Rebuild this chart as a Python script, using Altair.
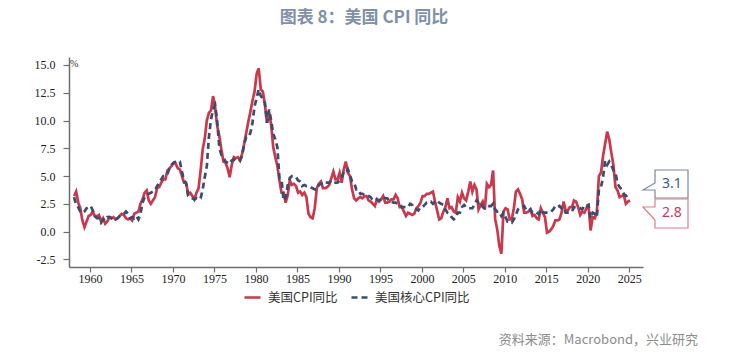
import altair as alt
import pandas as pd

# ---------------- data (quarterly, mid-quarter months Feb/May/Aug/Nov) ----------------
start_year = 1958
series_names = ["美国CPI同比", "美国核心CPI同比"]

cpi_yoy = [
    3.2, 3.6, 2.6, 2.1,   # 1958
    1.0, 0.4, 0.9, 1.4,   # 1959
    1.5, 1.8, 1.4, 1.4,   # 1960
    1.5, 0.9, 1.2, 0.7,   # 1961
    0.9, 1.3, 1.2, 1.3,   # 1962
    1.1, 1.2, 1.4, 1.6,   # 1963
    1.5, 1.2, 1.1, 1.2,   # 1964
    1.0, 1.6, 1.7, 1.8,   # 1965
    2.5, 2.9, 3.5, 3.7,   # 1966
    2.8, 2.5, 2.8, 3.1,   # 1967
    3.9, 4.0, 4.4, 4.7,   # 1968
    4.7, 5.5, 5.7, 5.9,   # 1969
    6.2, 6.1, 5.7, 5.6,   # 1970
    5.0, 4.4, 4.4, 3.4,   # 1971
    3.5, 3.2, 2.9, 3.5,   # 1972
    3.9, 5.5, 7.4, 8.4,   # 1973
    10.0, 10.7, 10.9, 12.2,  # 1974
    11.2, 9.5, 8.6, 7.4,  # 1975
    6.3, 6.2, 5.7, 4.9,   # 1976
    6.0, 6.7, 6.6, 6.7,   # 1977
    6.4, 7.0, 7.9, 8.9,   # 1978
    9.9, 10.8, 11.8, 12.6,  # 1979
    14.2, 14.7, 12.8, 12.6,  # 1980
    11.4, 9.8, 10.8, 9.6,  # 1981
    7.6, 6.7, 5.9, 4.6,   # 1982
    3.5, 3.5, 2.6, 3.3,   # 1983
    4.6, 4.2, 4.3, 4.1,   # 1984
    3.5, 3.6, 3.3, 3.5,   # 1985
    3.1, 1.6, 1.3, 1.2,   # 1986
    2.1, 3.9, 4.3, 4.5,   # 1987
    3.9, 3.9, 4.0, 4.2,   # 1988
    4.8, 5.4, 4.7, 4.7,   # 1989
    5.3, 4.4, 5.6, 6.3,   # 1990
    5.3, 5.0, 3.8, 3.0,   # 1991
    2.8, 3.0, 3.1, 3.0,   # 1992
    3.2, 3.2, 2.8, 2.7,   # 1993
    2.5, 2.3, 2.9, 2.7,   # 1994
    2.9, 3.2, 2.6, 2.6,   # 1995
    2.7, 2.9, 2.9, 3.3,   # 1996
    3.0, 2.2, 2.2, 1.8,   # 1997
    1.4, 1.7, 1.6, 1.5,   # 1998
    1.6, 2.1, 2.3, 2.6,   # 1999
    3.2, 3.2, 3.4, 3.4,   # 2000
    3.5, 3.6, 2.7, 1.9,   # 2001
    1.1, 1.2, 1.8, 2.2,   # 2002
    3.0, 2.1, 2.2, 1.8,   # 2003
    1.7, 3.1, 2.7, 3.5,   # 2004
    3.0, 2.8, 3.6, 4.5,   # 2005
    3.6, 4.2, 3.8, 2.0,   # 2006
    2.4, 2.7, 2.0, 4.3,   # 2007
    4.0, 4.2, 5.5, 1.1,   # 2008
    0.2, -1.3, -2.0, 1.8,  # 2009
    2.1, 2.0, 1.1, 1.1,   # 2010
    2.1, 3.6, 3.8, 3.4,   # 2011
    2.9, 1.7, 1.7, 1.8,   # 2012
    2.0, 1.4, 1.5, 1.2,   # 2013
    1.1, 2.1, 1.7, 1.3,   # 2014
    -0.1, 0.0, 0.2, 0.5,  # 2015
    1.0, 1.0, 1.1, 1.7,   # 2016
    2.7, 1.9, 1.9, 2.2,   # 2017
    2.2, 2.8, 2.7, 2.2,   # 2018
    1.5, 1.8, 1.7, 2.1,   # 2019
    2.3, 0.1, 1.3, 1.2,   # 2020
    1.7, 5.0, 5.3, 6.8,   # 2021
    7.9, 9.0, 8.3, 7.1,   # 2022
    6.0, 4.0, 3.7, 3.1,   # 2023
    3.2, 3.3, 2.5, 2.7,   # 2024
    2.8,                  # 2025
]

core_yoy = [
    3.1, 2.4, 2.2, 1.8,   # 1958
    1.7, 1.8, 2.1, 2.2,   # 1959
    2.3, 1.9, 1.4, 1.2,   # 1960
    1.2, 0.8, 1.1, 1.0,   # 1961
    1.3, 1.3, 1.2, 1.3,   # 1962
    1.1, 1.2, 1.4, 1.5,   # 1963
    1.6, 1.8, 1.6, 1.2,   # 1964
    1.3, 1.2, 1.4, 1.1,   # 1965
    1.6, 2.6, 3.1, 3.3,   # 1966
    3.4, 3.5, 3.6, 3.7,   # 1967
    4.1, 4.4, 4.7, 5.0,   # 1968
    5.0, 5.2, 5.7, 6.0,   # 1969
    6.2, 6.3, 6.4, 6.3,   # 1970
    5.4, 4.6, 4.3, 3.2,   # 1971
    3.1, 3.0, 2.9, 3.0,   # 1972
    2.9, 3.0, 3.8, 4.9,   # 1973
    5.9, 8.5, 10.1, 11.0,  # 1974
    11.4, 9.9, 7.6, 6.9,  # 1975
    6.7, 6.3, 6.2, 6.1,   # 1976
    6.4, 6.5, 6.4, 6.5,   # 1977
    6.4, 6.8, 7.9, 8.5,   # 1978
    8.5, 8.9, 9.8, 11.3,  # 1979
    12.0, 12.8, 12.2, 12.0,  # 1980
    11.6, 9.8, 11.0, 10.0,  # 1981
    8.8, 8.3, 7.6, 4.8,   # 1982
    4.7, 2.8, 3.0, 4.2,   # 1983
    4.8, 5.0, 5.0, 4.9,   # 1984
    4.6, 4.5, 4.1, 4.2,   # 1985
    4.1, 4.1, 4.0, 3.9,   # 1986
    3.8, 3.8, 4.2, 4.3,   # 1987
    4.3, 4.5, 4.4, 4.4,   # 1988
    4.6, 4.5, 4.4, 4.4,   # 1989
    4.6, 4.8, 5.4, 5.3,   # 1990
    5.6, 5.1, 4.5, 4.4,   # 1991
    3.8, 3.8, 3.4, 3.4,   # 1992
    3.3, 3.3, 3.2, 3.1,   # 1993
    2.8, 2.8, 2.9, 2.8,   # 1994
    2.9, 3.1, 3.0, 3.0,   # 1995
    2.7, 2.7, 2.6, 2.6,   # 1996
    2.5, 2.5, 2.2, 2.2,   # 1997
    2.2, 2.2, 2.5, 2.4,   # 1998
    2.1, 2.0, 1.9, 2.2,   # 1999
    2.2, 2.4, 2.6, 2.6,   # 2000
    2.7, 2.5, 2.7, 2.8,   # 2001
    2.6, 2.5, 2.4, 2.0,   # 2002
    1.7, 1.6, 1.3, 1.1,   # 2003
    1.2, 1.7, 1.7, 2.2,   # 2004
    2.4, 2.2, 2.1, 2.1,   # 2005
    2.1, 2.4, 2.8, 2.6,   # 2006
    2.7, 2.2, 2.1, 2.3,   # 2007
    2.3, 2.3, 2.5, 2.0,   # 2008
    1.8, 1.8, 1.4, 1.7,   # 2009
    1.3, 0.9, 0.9, 0.8,   # 2010
    1.1, 1.5, 2.0, 2.2,   # 2011
    2.2, 2.3, 1.9, 1.9,   # 2012
    2.0, 1.7, 1.8, 1.7,   # 2013
    1.6, 2.0, 1.7, 1.7,   # 2014
    1.7, 1.7, 1.8, 2.0,   # 2015
    2.3, 2.2, 2.3, 2.1,   # 2016
    2.2, 1.7, 1.7, 1.7,   # 2017
    1.8, 2.2, 2.2, 2.2,   # 2018
    2.1, 2.0, 2.4, 2.3,   # 2019
    2.4, 1.2, 1.7, 1.6,   # 2020
    1.3, 3.8, 4.0, 4.9,   # 2021
    6.4, 6.0, 6.3, 6.0,   # 2022
    5.5, 5.3, 4.3, 4.0,   # 2023
    3.8, 3.4, 3.2, 3.3,   # 2024
    3.1,                  # 2025
]

x_ticks = [1960, 1965, 1970, 1975, 1980, 1985, 1990, 1995, 2000, 2005, 2010, 2015, 2020, 2025]
y_ticks = [-2.5, 0.0, 2.5, 5.0, 7.5, 10.0, 12.5, 15.0]
last_labels = ["3.1", "2.8"]

title_text = "图表 8：美国 CPI 同比"
source_text = "资料来源：Macrobond，兴业研究"

# ---------------- styling ----------------
RED = "#C9384C"
NAVY = "#3D4B6C"
mid_months = [1, 4, 7, 10]  # Feb, May, Aug, Nov (0-based)

rows = []
for name, vals in zip(series_names, [cpi_yoy, core_yoy]):
    for i, v in enumerate(vals):
        t = start_year + i // 4 + mid_months[i % 4] / 12.0
        rows.append({"t": t, "v": v, "s": name})
df = pd.DataFrame(rows)

legend = alt.Legend(
    title=None, orient="none", direction="horizontal",
    legendX=174, legendY=231, padding=0,
    symbolType="stroke", symbolSize=256, symbolStrokeWidth=2.6,
    labelFont="Noto Sans CJK SC", labelFontSize=12.5, labelColor="#333333",
    labelOffset=6, columnPadding=8,
)

lines = alt.Chart(df).mark_line(strokeWidth=2.7).encode(
    x=alt.X("t:Q",
            scale=alt.Scale(domain=[1957.47, 2026.65], nice=False, zero=False),
            axis=alt.Axis(values=x_ticks, format="d", title=None, grid=False,
                          tickSize=5, labelPadding=1, labelFlush=False)),
    y=alt.Y("v:Q",
            scale=alt.Scale(domain=[-3.19, 15.72], nice=False, zero=False),
            axis=alt.Axis(values=y_ticks, title=None, grid=False, tickSize=6,
                          labelPadding=8,
                          labelExpr="replace(format(datum.value, '.1f'), '\u2212', '-')")),
    color=alt.Color("s:N", scale=alt.Scale(domain=series_names, range=[RED, NAVY]),
                    legend=legend),
    strokeDash=alt.StrokeDash("s:N", scale=alt.Scale(domain=series_names,
                                                     range=[[1, 0], [6, 4]]),
                              legend=legend),
)

one = pd.DataFrame({"k": [0]})

title = alt.Chart(one).mark_text(
    text=title_text, font="Noto Sans CJK SC", fontSize=17, fontWeight="bold",
    color="#7F90AA", align="center", baseline="middle",
).encode(x=alt.value(295), y=alt.value(-39))

source = alt.Chart(one).mark_text(
    text=source_text, font="Noto Sans CJK SC", fontSize=13,
    color="#8C8C8C", align="right", baseline="middle",
).encode(x=alt.value(629), y=alt.value(283))

pct = alt.Chart(one).mark_text(
    text="%", font="Liberation Serif", fontSize=10, color="#333333",
    align="left", baseline="middle",
).encode(x=alt.value(1), y=alt.value(7))

shape_top = "M0,0 L12,-7 L12,-20 L45,-20 L45,8 L12,8 L12,0 Z"
shape_bot = "M0,0 L12,0 L12,-8 L45,-8 L45,21 L12,21 L12,13 Z"

box_top = alt.Chart(one).mark_point(
    shape=shape_top, size=4, filled=True, fill="white", stroke="#7A869E",
    strokeWidth=1.2, opacity=1,
).encode(x=alt.value(574), y=alt.value(133))

box_bot = alt.Chart(one).mark_point(
    shape=shape_bot, size=4, filled=True, fill="white", stroke="#DC7F8E",
    strokeWidth=1.2, opacity=1,
).encode(x=alt.value(574), y=alt.value(150))

lab_top = alt.Chart(one).mark_text(
    text=last_labels[0], font="Noto Sans", fontSize=14, color="#3B5694",
    align="center", baseline="middle",
).encode(x=alt.value(603), y=alt.value(127))

lab_bot = alt.Chart(one).mark_text(
    text=last_labels[1], font="Noto Sans", fontSize=14, color="#C93A5A",
    align="center", baseline="middle",
).encode(x=alt.value(603), y=alt.value(156))

chart = alt.layer(
    lines, box_top, box_bot, lab_top, lab_bot, title, source, pct
).properties(
    width=574, height=210,
    padding={"left": 69, "top": 57, "right": 96, "bottom": 86},
    autosize=alt.AutoSizeParams(type="none"),
    background="white",
).configure_view(
    stroke=None
).configure_axis(
    domainColor="#6E6E6E", domainWidth=1.5, tickColor="#6E6E6E", tickWidth=1.2,
    labelFont="Liberation Serif", labelFontSize=12, labelColor="#222222",
)

chart.save("out.html", embed_options={"renderer": "svg", "actions": False})
